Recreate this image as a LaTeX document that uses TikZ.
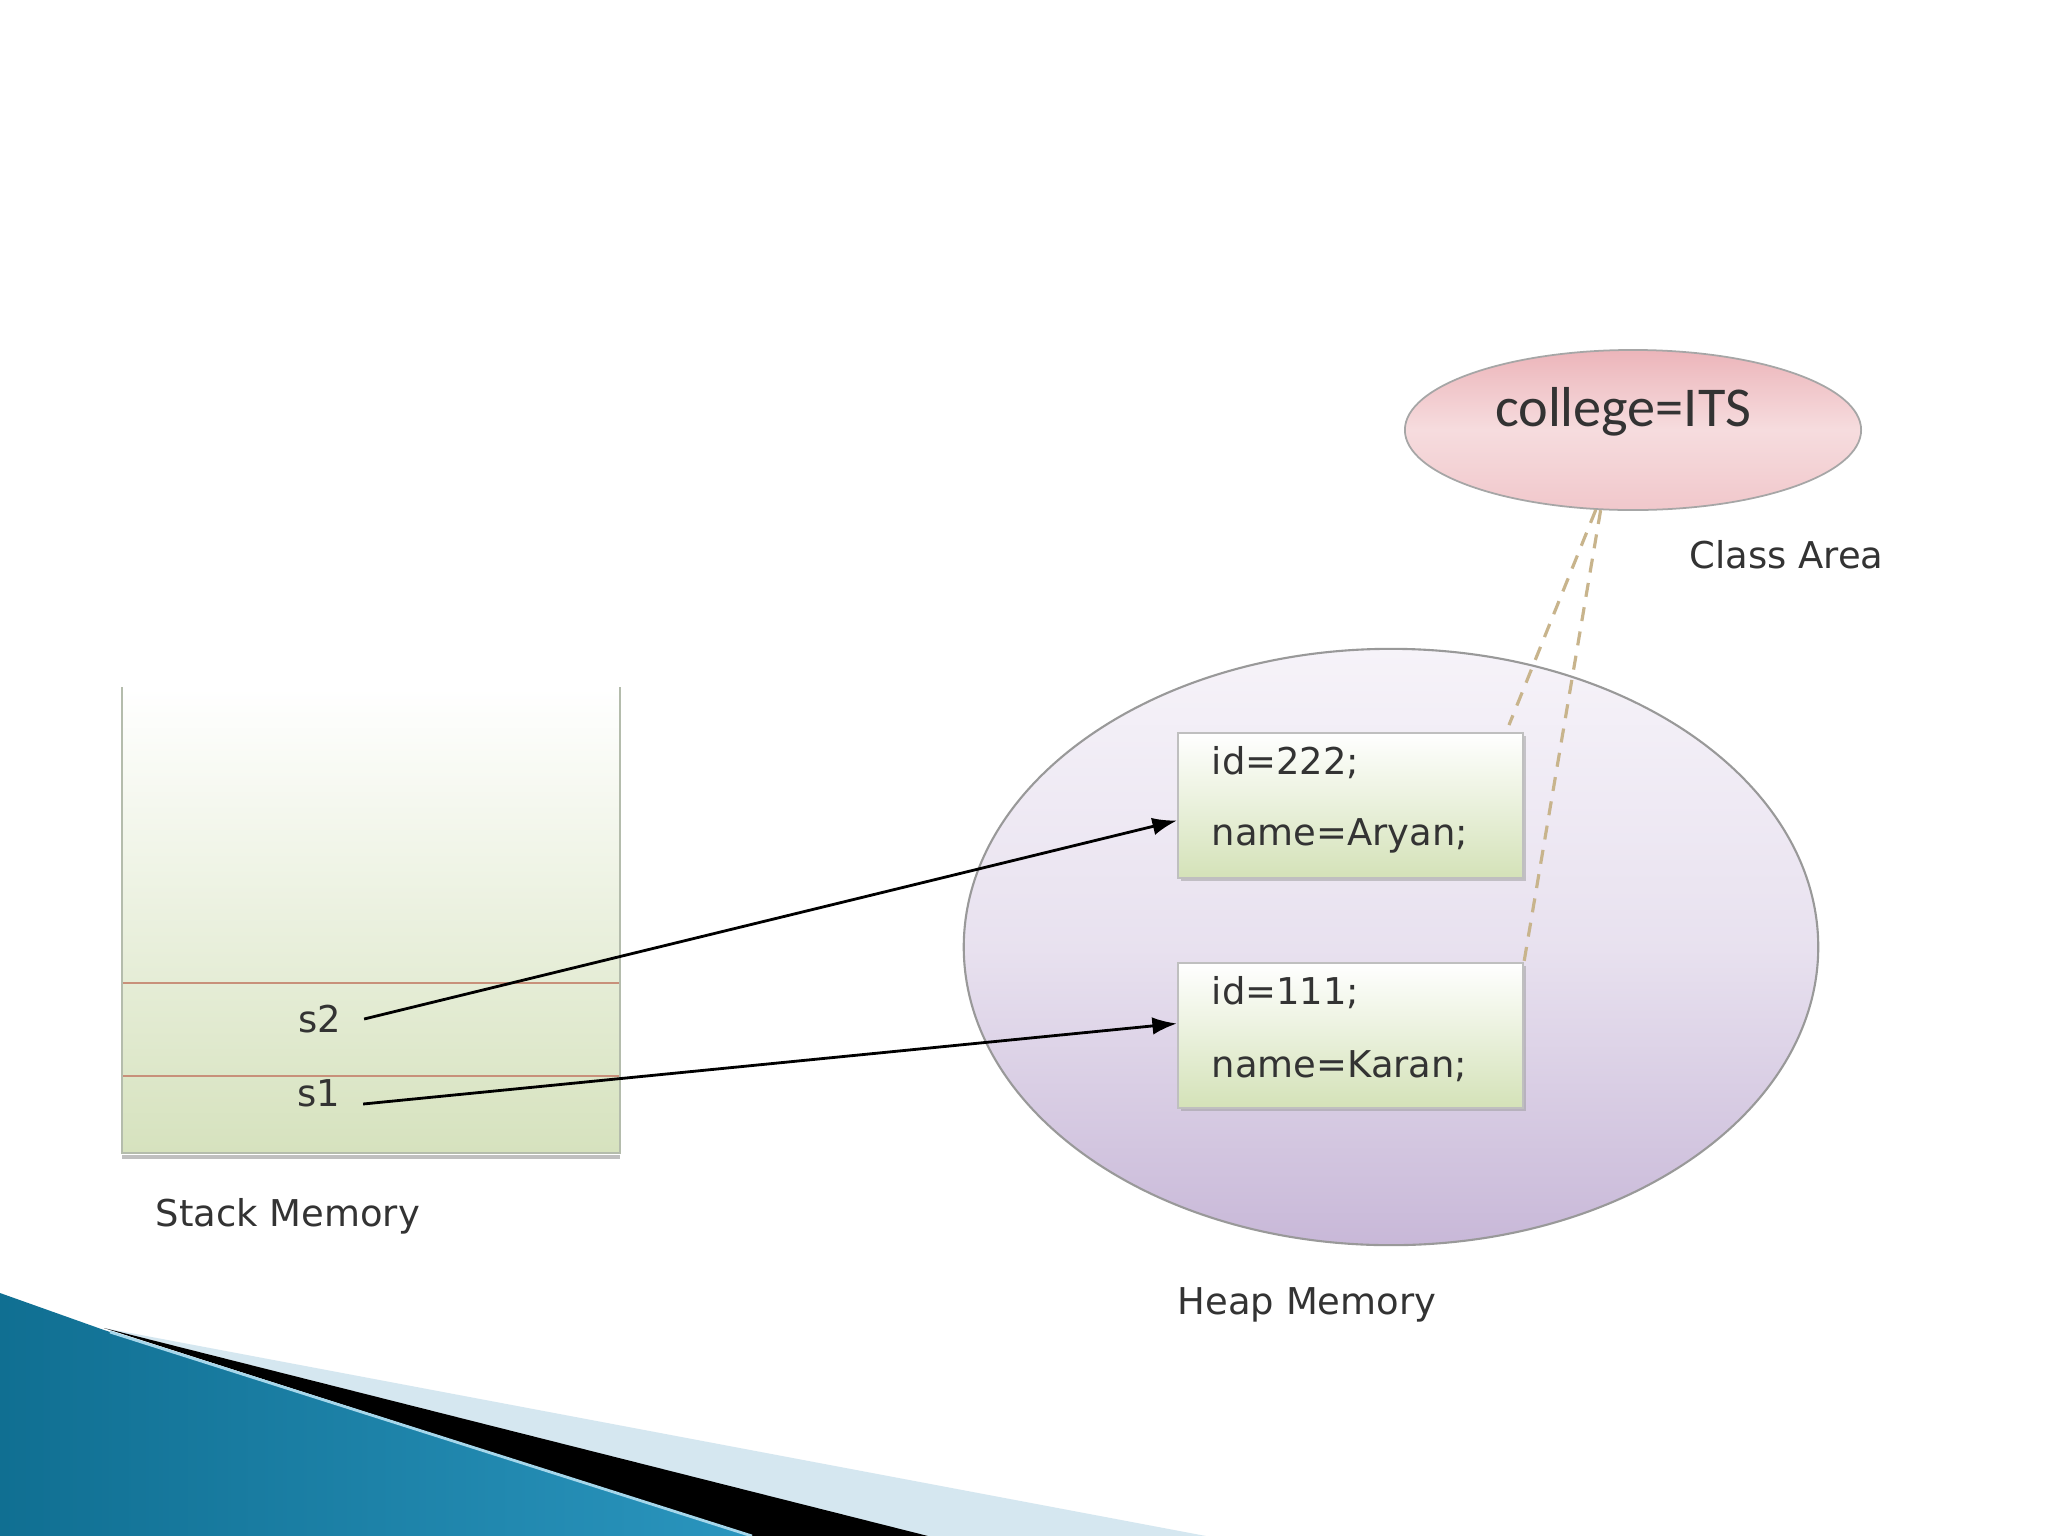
\documentclass[tikz,border=0pt]{standalone}
\usepackage{fontspec}
\setmainfont{DejaVu Sans}
\newfontfamily\calib{Carlito}
\usetikzlibrary{shapes.geometric,arrows.meta,shadows}
\definecolor{stackgreen}{HTML}{D6E2BE}
\definecolor{divred}{HTML}{C8907A}
\definecolor{sidegray}{HTML}{B4BCAC}
\definecolor{heaptop}{HTML}{F6F3F9}
\definecolor{heapbot}{HTML}{C8B8D8}
\definecolor{pinkedge}{HTML}{ECB5BA}
\definecolor{pinkmid}{HTML}{F6DCDE}
\definecolor{boxgreen}{HTML}{D4E2B8}
\definecolor{dashc}{HTML}{C8B48C}
\definecolor{txt}{HTML}{333333}
\definecolor{tealdark}{HTML}{106F92}
\definecolor{tealmid}{HTML}{4DB0D6}
\definecolor{tealright}{HTML}{2A95BE}
\definecolor{paleblue}{HTML}{D5E7F0}
\tikzset{
  lbl/.style={text=txt, font=\fontsize{10.5}{12}\selectfont, inner sep=2pt},
  heapell/.style={ellipse, draw=black!40, line width=0.6pt, top color=heaptop, bottom color=heapbot, middle color=heaptop!70!heapbot, minimum width=8.54cm, minimum height=5.96cm, inner sep=0pt},
  clsell/.style={ellipse, draw=black!35, line width=0.5pt, top color=pinkedge, bottom color=pinkedge!75!white, middle color=pinkmid, minimum width=4.56cm, minimum height=1.6cm, inner sep=0pt},
  objbox/.style={rectangle, draw=black!25, line width=0.5pt, top color=white, bottom color=boxgreen, minimum width=3.45cm, minimum height=1.45cm, inner sep=0pt, drop shadow={shadow xshift=0.9pt, shadow yshift=-0.9pt, fill=black!40, opacity=0.5}},
  stackbox/.style={rectangle, top color=white, bottom color=stackgreen, minimum width=4.96cm, minimum height=4.64cm, inner sep=0pt},
  ptr/.style={-{Latex[length=7pt,width=5pt]}, line width=0.8pt, black},
  dashln/.style={dashed, dash pattern=on 4pt off 3pt, dashc, line width=0.9pt}
}
\begin{document}
\begin{tikzpicture}[x=0.01cm,y=-0.01cm]
\useasboundingbox (0,0) rectangle (2048,1536);
\fill[white] (0,0) rectangle (2048,1536);

% stack memory
\node[stackbox] (stack) at (371,920) {};
\draw[sidegray, line width=0.6pt] (stack.north west) -- (stack.south west) -- (stack.south east) -- (stack.north east);
\draw[black!25, line width=1.2pt] ([yshift=-1.2pt]stack.south west) -- ([yshift=-1.2pt]stack.south east);
\coordinate (d2l) at (123,983); \coordinate (d2r) at (619,983);
\coordinate (d1l) at (123,1076); \coordinate (d1r) at (619,1076);
\draw[divred, line width=0.5pt] (d2l) -- (d2r);
\draw[divred, line width=0.5pt] (d1l) -- (d1r);
\node[lbl] (s2) at (320,1019) {s2};
\node[lbl] (s1) at (319,1093) {s1};
\node[lbl, anchor=west] (stackl) at (148,1216) {Stack Memory};

% heap memory
\node[heapell] (heap) at (1391,947) {};
\node[lbl, anchor=west] (heapl) at (1170,1305) {Heap Memory};
\node[objbox] (b1) at (1350.5,805.5) {};
\node[objbox] (b2) at (1350.5,1035.5) {};
\node[lbl, anchor=west] (b1a) at (1204,763) {id=222;};
\node[lbl, anchor=west] (b1b) at (1204,836) {name=Aryan;};
\node[lbl, anchor=west] (b2a) at (1204,993) {id=111;};
\node[lbl, anchor=west] (b2b) at (1204,1066) {name=Karan;};

% class area
\node[clsell] (cls) at (1633,430) {};
\node[text=txt, inner sep=0pt] (clst) at (1623,412) {\calib\fontsize{16}{19}\selectfont college=ITS};
\node[lbl, anchor=west] (classl) at (1682,555) {Class Area};

% connectors
\draw[dashln] (cls.-115) -- ([xshift=-0.15cm,yshift=0.07cm]b1.north east);
\draw[dashln] (cls.-112) -- (b2.north east);
\draw[ptr] ([xshift=0.15cm]s2.east) -- ([yshift=-0.15cm]b1.west);
\draw[ptr] ([xshift=0.15cm,yshift=-0.11cm]s1.east) -- ([yshift=0.12cm]b2.west);

% bottom-left decoration
\shade[left color=tealdark, middle color=tealmid, right color=tealright] (0,1293) -- (104,1330) -- (752,1536) -- (0,1536) -- cycle;
\fill[paleblue] (104,1328) -- (1206,1536) -- (926,1536) -- cycle;
\fill[black] (104,1328) -- (928,1536) -- (752,1536) -- cycle;
\draw[tealmid!50!white, line width=0.8pt] (110,1332) -- (752,1536);
\end{tikzpicture}
\end{document}
